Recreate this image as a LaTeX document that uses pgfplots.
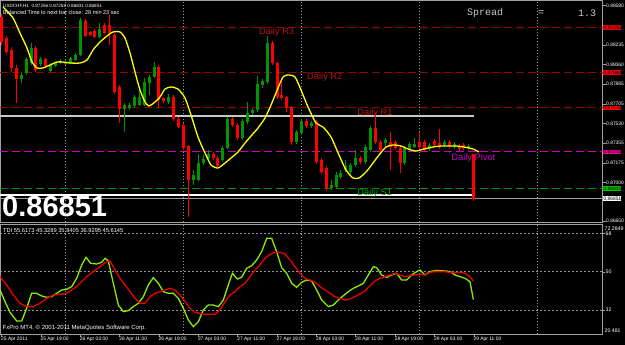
\documentclass[border=0pt]{standalone}
\usepackage{pgfplots}
\pgfplotsset{compat=1.18}
\usepackage{pgfplotstable}
\usepackage{fontspec}
\setmainfont{Liberation Sans}
\setmonofont{Liberation Mono}

\definecolor{candleup}{RGB}{0,150,0}
\definecolor{candledn}{RGB}{255,0,0}
\definecolor{rline}{RGB}{150,0,0}
\definecolor{rtext}{RGB}{190,20,20}
\definecolor{pivot}{RGB}{200,0,200}
\definecolor{sline}{RGB}{0,140,0}
\definecolor{stext}{RGB}{0,160,0}
\definecolor{framegray}{RGB}{160,160,160}
\definecolor{gridgray}{RGB}{150,150,150}
\definecolor{tdigreen}{RGB}{140,235,0}
\definecolor{tdired}{RGB}{235,0,0}
\definecolor{maline}{RGB}{255,255,0}
\definecolor{spreadgray}{RGB}{200,200,200}

% bull candles: index, open, high, low, close
\pgfplotstableread{
x o h l c
4 0.87930 0.87993 0.87894 0.87966
5 0.87984 0.88128 0.87966 0.88110
6 0.88074 0.88254 0.88056 0.88209
8 0.88065 0.88128 0.88047 0.88110
10 0.88002 0.88074 0.87993 0.88056
11 0.88047 0.88083 0.88038 0.88074
12 0.88074 0.88110 0.88065 0.88092
13 0.88065 0.88101 0.88056 0.88083
14 0.88074 0.88128 0.88065 0.88119
15 0.88101 0.88164 0.88092 0.88146
16 0.88146 0.88479 0.88137 0.88461
20 0.88308 0.88434 0.88299 0.88380
25 0.87660 0.87714 0.87453 0.87696
26 0.87669 0.87714 0.87651 0.87696
27 0.87687 0.87786 0.87669 0.87768
28 0.87696 0.87831 0.87687 0.87768
29 0.87696 0.87939 0.87687 0.87903
30 0.87894 0.87966 0.87786 0.87948
31 0.87948 0.88083 0.87939 0.88038
34 0.87723 0.87795 0.87705 0.87768
39 0.87021 0.87111 0.86976 0.87066
40 0.87021 0.87255 0.87012 0.87174
41 0.87174 0.87246 0.87156 0.87210
42 0.87210 0.87291 0.87192 0.87255
45 0.87201 0.87327 0.87183 0.87309
46 0.87309 0.87588 0.87300 0.87570
49 0.87399 0.87570 0.87381 0.87552
50 0.87543 0.87723 0.87525 0.87624
51 0.87624 0.87669 0.87606 0.87651
52 0.87651 0.87957 0.87633 0.87885
53 0.87876 0.87930 0.87849 0.87912
54 0.87903 0.88317 0.87885 0.88254
60 0.87363 0.87471 0.87345 0.87453
61 0.87444 0.87570 0.87426 0.87552
63 0.87507 0.87552 0.87489 0.87534
67 0.86949 0.87021 0.86931 0.86976
68 0.86958 0.87093 0.86940 0.87066
69 0.87048 0.87111 0.87030 0.87084
70 0.87111 0.87201 0.87093 0.87147
71 0.87093 0.87174 0.87075 0.87156
72 0.87156 0.87291 0.87138 0.87219
74 0.87183 0.87336 0.87165 0.87318
75 0.87291 0.87507 0.87273 0.87489
78 0.87354 0.87399 0.87327 0.87381
82 0.87174 0.87327 0.87156 0.87309
83 0.87300 0.87363 0.87282 0.87345
84 0.87318 0.87399 0.87309 0.87345
87 0.87300 0.87354 0.87282 0.87336
90 0.87336 0.87381 0.87318 0.87363
92 0.87318 0.87363 0.87300 0.87345
95 0.87309 0.87345 0.87291 0.87327
}\upbars

% bear candles: index, open, high, low, close
\pgfplotstableread{
x o h l c
0 0.88488 0.88515 0.88236 0.88263
1 0.88299 0.88317 0.88155 0.88173
2 0.88191 0.88218 0.87993 0.88029
3 0.88029 0.88056 0.87714 0.87930
7 0.88209 0.88227 0.87993 0.88011
9 0.88110 0.88119 0.88029 0.88047
17 0.88452 0.88470 0.88308 0.88317
18 0.88353 0.88362 0.88317 0.88326
19 0.88362 0.88380 0.88299 0.88308
21 0.88416 0.88434 0.88335 0.88344
22 0.88416 0.88506 0.88236 0.88344
23 0.88326 0.88344 0.87795 0.87813
24 0.87858 0.87876 0.87534 0.87660
32 0.88038 0.88056 0.87669 0.87741
33 0.87759 0.87768 0.87714 0.87732
35 0.87768 0.87786 0.87552 0.87570
36 0.87570 0.87588 0.87489 0.87498
37 0.87516 0.87534 0.87291 0.87309
38 0.87327 0.87336 0.86688 0.87021
43 0.87255 0.87273 0.87201 0.87219
44 0.87219 0.87237 0.87138 0.87147
47 0.87570 0.87588 0.87498 0.87516
48 0.87516 0.87534 0.87381 0.87399
55 0.88254 0.88272 0.88056 0.88074
56 0.88074 0.88083 0.87750 0.87768
57 0.87786 0.87921 0.87741 0.87759
58 0.87768 0.87777 0.87633 0.87669
59 0.87678 0.87687 0.87336 0.87363
62 0.87552 0.87570 0.87489 0.87507
64 0.87543 0.87561 0.87165 0.87183
65 0.87201 0.87219 0.87075 0.87093
66 0.87129 0.87147 0.86922 0.86949
73 0.87219 0.87237 0.87165 0.87183
76 0.87489 0.87624 0.87345 0.87363
77 0.87363 0.87381 0.87273 0.87291
79 0.87363 0.87453 0.87111 0.87318
80 0.87363 0.87381 0.87291 0.87309
81 0.87309 0.87327 0.87084 0.87174
85 0.87363 0.87453 0.87300 0.87318
86 0.87363 0.87381 0.87273 0.87291
88 0.87372 0.87390 0.87318 0.87336
89 0.87354 0.87480 0.87300 0.87318
91 0.87363 0.87381 0.87309 0.87327
93 0.87327 0.87345 0.87282 0.87300
94 0.87336 0.87354 0.87291 0.87309
96 0.87256 0.87258 0.86831 0.86851
}\dnbars

% moving average (yellow)
\pgfplotstableread{
x y
0.30 0.88578
2.34 0.88479
3.76 0.88344
5.18 0.88209
6.20 0.88083
7.22 0.88029
8.43 0.88029
9.86 0.88056
11.28 0.88083
12.50 0.88083
13.92 0.88074
15.96 0.88074
17.38 0.88101
18.60 0.88191
20.02 0.88263
21.44 0.88317
22.66 0.88353
24.09 0.88353
25.10 0.88299
26.12 0.88164
27.13 0.87993
28.15 0.87831
29.17 0.87723
29.98 0.87687
31.20 0.87723
32.22 0.87768
33.23 0.87840
34.45 0.87858
35.87 0.87840
37.30 0.87759
38.52 0.87606
39.94 0.87408
41.36 0.87264
42.58 0.87156
44.00 0.87129
45.43 0.87174
46.65 0.87219
48.07 0.87273
49.49 0.87354
50.71 0.87417
52.13 0.87489
53.56 0.87579
54.78 0.87696
56.20 0.87849
57.22 0.87948
58.23 0.87966
59.65 0.87948
60.87 0.87831
62.30 0.87678
63.92 0.87534
65.35 0.87498
66.97 0.87408
68.60 0.87246
70.02 0.87111
71.44 0.87039
72.66 0.87039
74.09 0.87093
75.51 0.87174
76.73 0.87246
78.15 0.87318
79.57 0.87336
81.20 0.87327
82.62 0.87300
84.25 0.87282
85.88 0.87300
87.70 0.87318
89.33 0.87327
90.96 0.87327
92.38 0.87327
94.00 0.87318
95.83 0.87300
97.05 0.87273
}\mavg

% TDI price line (green)
\pgfplotstableread{
x y
-0.30 41.45
0.71 35.95
1.73 30.93
3.08 26.85
4.10 26.85
5.11 32.82
6.13 39.88
7.15 39.88
8.16 38.62
9.18 37.99
10.20 38.31
11.21 39.88
12.23 41.45
13.25 41.76
14.26 43.02
15.28 46.94
16.29 53.22
17.17 56.83
18.12 54.00
19.34 53.69
20.36 54.47
21.04 56.36
21.71 55.10
22.73 44.58
23.75 34.38
24.76 31.25
25.78 31.72
26.80 33.60
27.81 35.17
28.83 38.31
29.84 43.80
30.86 47.25
31.88 44.58
32.89 40.66
33.91 39.88
34.93 39.88
35.94 37.52
36.96 32.82
37.97 27.32
38.99 24.18
40.01 26.54
41.02 32.03
42.04 34.38
43.06 34.38
44.07 33.60
45.09 36.74
46.10 43.80
46.92 49.29
47.93 46.63
48.81 47.41
49.83 51.65
50.85 52.90
51.86 55.57
52.88 59.49
53.90 65.77
54.91 65.77
55.93 59.49
56.94 51.96
57.96 49.29
58.98 44.58
59.99 42.70
61.01 45.06
62.03 46.15
63.04 45.68
64.06 41.45
65.07 36.74
66.43 33.60
67.45 34.38
68.46 36.74
69.48 38.78
70.49 40.66
71.51 42.23
72.53 43.33
73.54 44.58
74.56 48.51
75.58 52.43
76.25 51.96
77.27 48.51
78.29 47.41
79.30 48.51
80.32 49.29
81.33 46.15
82.35 46.15
83.37 48.51
84.38 50.08
85.06 50.86
86.08 48.51
87.09 50.08
88.11 50.55
89.13 50.55
90.14 50.39
91.16 50.08
92.17 48.51
93.19 47.72
94.21 46.94
95.22 45.37
95.90 36.93
}\tdigr

% TDI signal line (red)
\pgfplotstableread{
x y
-0.30 47.72
1.05 43.80
2.41 39.09
3.76 35.17
5.11 33.60
6.47 33.60
7.83 35.17
9.18 37.52
10.54 39.09
11.89 39.41
13.25 39.88
14.26 41.45
15.28 43.02
16.29 45.37
17.31 47.72
18.67 50.08
20.02 52.43
21.38 54.79
22.05 55.10
23.07 50.86
24.09 46.94
25.10 43.80
26.12 40.66
27.13 37.52
28.15 35.17
29.17 35.17
30.18 38.31
31.20 39.88
32.22 40.66
33.23 41.45
34.25 42.23
35.26 41.45
36.28 39.09
37.30 35.95
38.31 32.82
39.33 30.93
40.35 30.46
41.36 29.99
42.38 29.99
43.39 29.99
44.41 32.03
45.43 35.95
46.44 39.09
47.46 40.66
48.47 43.02
49.49 44.58
50.51 47.72
51.52 50.86
52.54 53.22
53.56 56.36
54.57 58.24
55.59 59.18
56.61 59.18
57.62 58.40
58.64 55.57
59.65 52.43
60.67 49.29
61.69 46.94
62.70 46.15
63.72 45.06
64.74 43.02
65.75 41.45
66.77 39.88
67.78 38.31
68.80 37.52
69.82 36.74
70.83 37.21
71.85 38.31
72.87 39.56
73.88 40.98
74.90 43.49
75.91 45.68
76.93 46.94
77.95 47.72
78.96 48.51
79.98 49.29
81.00 48.51
82.01 47.72
83.03 48.20
84.04 48.51
85.06 48.82
86.08 48.51
87.09 49.76
88.11 50.08
89.13 50.08
90.14 50.08
91.16 49.61
92.17 49.61
93.19 49.76
94.21 49.29
95.22 47.72
95.90 45.61
}\tdird

\begin{document}
\begin{tikzpicture}
\fill[black] (0,0) rectangle (625pt,345pt);
\path[use as bounding box] (0,0) rectangle (625pt,345pt);

% ---------------- main price panel ----------------
\begin{axis}[
  at={(0pt,123pt)}, anchor=south west, scale only axis,
  width=602.5pt, height=222pt,
  xmin=-0.305, xmax=122.15, ymin=0.86643, ymax=0.88641,
  clip mode=individual,
  axis line style={draw=framegray, line width=0.8pt},
  xtick={13,37,61,85,109}, xticklabels={}, xmajorgrids,
  x grid style={draw=gridgray, line width=0.7pt, dash pattern=on 1pt off 2pt},
  x tick style={draw=none},
  scaled y ticks=false,
  ytick={0.8859,0.88235,0.8806,0.87885,0.87705,0.8753,0.87355,0.87175,0.87,0.8665},
  ytick pos=right, yticklabel pos=right,
  y tick style={draw=framegray, line width=0.6pt},
  tick align=outside, major tick length=3pt,
  yticklabel style={font=\fontsize{4.9}{5.5}\selectfont, text=white, anchor=west, inner sep=0pt, xshift=0.5pt,
     /pgf/number format/fixed, /pgf/number format/fixed zerofill, /pgf/number format/precision=5},
  /pgf/number format/assume math mode=true,
]
% pivot levels
\addplot[rline, line width=1pt, dash pattern=on 8pt off 4pt] coordinates {(-0.305,0.88395) (122.15,0.88395)};
\addplot[rline, line width=1pt, dash pattern=on 8pt off 4pt] coordinates {(-0.305,0.87990) (122.15,0.87990)};
\addplot[rline, line width=1pt, dash pattern=on 8pt off 4pt] coordinates {(-0.305,0.87675) (122.15,0.87675)};
\addplot[pivot, line width=1pt, dash pattern=on 8pt off 4pt] coordinates {(-0.305,0.87273) (122.15,0.87273)};
\addplot[sline, line width=1pt, dash pattern=on 8pt off 4pt] coordinates {(-0.305,0.86943) (122.15,0.86943)};
% horizontal lines
\addplot[spreadgray, line width=1.5pt] coordinates {(-0.305,0.87597) (96,0.87597)};
\addplot[white, line width=1.5pt] coordinates {(-0.305,0.86886) (96,0.86886)};
\addplot[framegray, line width=0.8pt] coordinates {(-0.305,0.86851) (122.15,0.86851)};
% candles: wicks
\addplot[draw=none, mark=none, error bars/.cd, y dir=minus, y explicit, error mark=none,
  error bar style={draw=candleup, line width=1pt}]
  table[x=x, y=h, y error minus expr=\thisrow{h}-\thisrow{l}] {\upbars};
\addplot[draw=none, mark=none, error bars/.cd, y dir=minus, y explicit, error mark=none,
  error bar style={draw=candledn, line width=1pt}]
  table[x=x, y=h, y error minus expr=\thisrow{h}-\thisrow{l}] {\dnbars};
% candles: bodies
\addplot[draw=none, mark=none, error bars/.cd, y dir=minus, y explicit, error mark=none,
  error bar style={draw=candleup, line width=3pt}]
  table[x=x, y=c, y error minus expr=\thisrow{c}-\thisrow{o}] {\upbars};
\addplot[draw=none, mark=none, error bars/.cd, y dir=minus, y explicit, error mark=none,
  error bar style={draw=candledn, line width=3pt}]
  table[x=x, y=o, y error minus expr=\thisrow{o}-\thisrow{c}] {\dnbars};
% moving average
\addplot[maline, line width=1.3pt, smooth, tension=0.4] table[x=x, y=y] {\mavg};
% level labels
\node[anchor=west, inner sep=0pt, text=rtext, font=\fontsize{9.3}{10}\selectfont] at (axis cs:52.3,0.88353) {Daily R3};
\node[anchor=west, inner sep=0pt, text=rtext, font=\fontsize{9.3}{10}\selectfont] at (axis cs:62.1,0.87948) {Daily R2};
\node[anchor=west, inner sep=0pt, text=rtext, font=\fontsize{9.3}{10}\selectfont] at (axis cs:72.3,0.87624) {Daily R1};
\node[anchor=west, inner sep=0pt, text=pivot, font=\fontsize{9.3}{10}\selectfont] at (axis cs:91.4,0.87219) {Daily Pivot};
\node[anchor=west, inner sep=0pt, text=stext, font=\fontsize{9.3}{10}\selectfont] at (axis cs:72.3,0.86904) {Daily S1};
% price boxes on the scale
\node[anchor=west, fill=red, text=black, inner sep=0.2pt, minimum height=4.8pt, font=\fontsize{4.9}{5.5}\selectfont, xshift=0.6pt] at (axis cs:122.15,0.88395) {0.88395};
\node[anchor=west, fill=red, text=black, inner sep=0.2pt, minimum height=4.8pt, font=\fontsize{4.9}{5.5}\selectfont, xshift=0.6pt] at (axis cs:122.15,0.87990) {0.87990};
\node[anchor=west, fill=red, text=black, inner sep=0.2pt, minimum height=4.8pt, font=\fontsize{4.9}{5.5}\selectfont, xshift=0.6pt, yshift=-0.6pt] at (axis cs:122.15,0.87675) {0.87675};
\node[anchor=west, fill=magenta, text=black, inner sep=0.2pt, minimum height=4.8pt, font=\fontsize{4.9}{5.5}\selectfont, xshift=0.6pt] at (axis cs:122.15,0.87273) {0.87273};
\node[anchor=west, fill=green!80!black, text=black, inner sep=0.2pt, minimum height=4.8pt, font=\fontsize{4.9}{5.5}\selectfont, xshift=0.6pt] at (axis cs:122.15,0.86943) {0.86943};
\node[anchor=west, fill=white, text=black, inner sep=0.2pt, minimum height=4.8pt, font=\fontsize{4.9}{5.5}\selectfont, xshift=0.6pt] at (axis cs:122.15,0.86851) {0.86851};
\end{axis}

% ---------------- TDI panel ----------------
\begin{axis}[
  at={(0pt,10.5pt)}, anchor=south west, scale only axis,
  width=602.5pt, height=110pt,
  xmin=-0.305, xmax=122.15, ymin=20.481, ymax=72.2849,
  clip mode=individual,
  axis line style={draw=framegray, line width=0.8pt},
  xtick={0,8,...,96},
  xticklabels={25 Apr 2011, 25 Apr 19:00, 26 Apr 03:00, 26 Apr 11:00, 26 Apr 19:00, 27 Apr 03:00, 27 Apr 11:00, 27 Apr 19:00, 28 Apr 03:00, 28 Apr 11:00, 28 Apr 19:00, 29 Apr 03:00, 29 Apr 11:00},
  xticklabel style={font=\fontsize{4.9}{6}\selectfont, text=white, anchor=north west, inner sep=0pt, xshift=-0.5pt, yshift=-0.3pt},
  xtick pos=bottom,
  x tick style={draw=framegray, line width=0.6pt},
  extra x ticks={13,37,61,85,109}, extra x tick labels={},
  extra x tick style={grid=major, major tick length=0pt},
  x grid style={draw=gridgray, line width=0.7pt, dash pattern=on 1pt off 2pt},
  ytick={32,50,68}, ymajorgrids,
  y grid style={draw=gridgray, line width=0.7pt, dash pattern=on 2pt off 2pt},
  ytick pos=right, yticklabel pos=right,
  y tick style={draw=framegray, line width=0.6pt},
  tick align=outside, major tick length=2.5pt,
  yticklabel style={font=\fontsize{5.2}{6}\selectfont, text=white, anchor=west, inner sep=0pt, xshift=0.5pt},
  /pgf/number format/assume math mode=true,
]
\addplot[tdigreen, line width=1.3pt] table[x=x, y=y] {\tdigr};
\addplot[tdired, line width=1.3pt] table[x=x, y=y] {\tdird};
\node[anchor=north west, inner sep=0pt, text=white, font=\fontsize{5.2}{6}\selectfont, xshift=2pt, yshift=-2.5pt] at (rel axis cs:1,1) {72.2849};
\node[anchor=south west, inner sep=0pt, text=white, font=\fontsize{5.2}{6}\selectfont, xshift=2pt, yshift=2pt] at (rel axis cs:1,0) {20.481};
\end{axis}

% ---------------- overlay texts ----------------
\node[anchor=west, inner sep=0pt, text=white, font=\fontsize{4.6}{5}\selectfont] at (3pt,339pt) {USDCHF,H1\ \ 0.87256 0.87258 0.86831 0.86851};
\node[anchor=west, inner sep=0pt, text=white, font=\fontsize{5.5}{6}\selectfont] at (3pt,332pt) {Balanced Time to next bar close: 28 min 23 sec};
\node[anchor=west, inner sep=0pt, text=spreadgray, font=\ttfamily\fontsize{10}{11}\selectfont] at (467pt,332pt) {Spread};
\node[anchor=center, inner sep=0pt, text=spreadgray, font=\ttfamily\fontsize{10}{11}\selectfont] at (541pt,332pt) {=};
\node[anchor=west, inner sep=0pt, text=spreadgray, font=\ttfamily\fontsize{10}{11}\selectfont] at (578pt,332pt) {1.3};
\node[anchor=base west, inner sep=0pt, text=white, font=\bfseries\fontsize{29}{30}\selectfont] at (2pt,128pt) {0.86851};
\node[anchor=west, inner sep=0pt, text=white, font=\fontsize{5.7}{6}\selectfont] at (3pt,114pt) {TDI 55.6173 45.3289 35.8405 36.9295 45.6145};
\node[anchor=west, inner sep=0pt, text=white, font=\fontsize{6}{7}\selectfont] at (2.5pt,17pt) {FxPro MT4, © 2001-2011 MetaQuotes Software Corp.};
\end{tikzpicture}
\end{document}
